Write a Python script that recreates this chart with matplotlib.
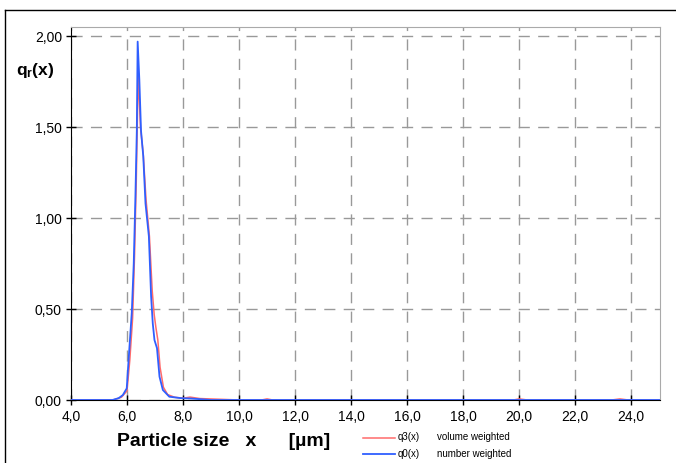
import numpy as np
import matplotlib
matplotlib.use('Agg')
import matplotlib.pyplot as plt
from matplotlib.lines import Line2D
from matplotlib.ticker import FuncFormatter, MultipleLocator

plt.rcParams['font.family'] = ['Liberation Sans', 'DejaVu Sans']
plt.rcParams['mathtext.fontset'] = 'custom'
plt.rcParams['mathtext.rm'] = 'Liberation Sans'
plt.rcParams['mathtext.bf'] = 'Liberation Sans:bold'

# q0(x) number weighted (blue)
x_q0 = [4.0, 5.0, 5.48, 5.7, 5.85, 5.99, 6.08, 6.17, 6.24, 6.30, 6.35, 6.38,
        6.44, 6.50, 6.58, 6.66, 6.78, 6.86, 6.92, 6.98, 7.07, 7.16, 7.28,
        7.51, 7.94, 8.3, 9.0, 12.0, 18.0, 25.0]
y_q0 = [0.0, 0.0, 0.0, 0.01, 0.027, 0.064, 0.275, 0.48, 0.75, 1.12, 1.48, 1.97,
        1.76, 1.48, 1.34, 1.08, 0.90, 0.57, 0.42, 0.33, 0.285, 0.128, 0.055,
        0.018, 0.01, 0.008, 0.0, 0.0, 0.0, 0.0]

# q3(x) volume weighted (red)
x_q3 = [4.0, 5.0, 5.5, 5.8, 6.0, 6.1, 6.2, 6.27, 6.33, 6.40, 6.48, 6.58,
        6.68, 6.80, 6.90, 6.97, 7.03, 7.10, 7.18, 7.30, 7.45, 7.7, 8.0, 8.25,
        8.6, 9.5, 10.0, 10.8, 11.0, 11.2, 19.8, 20.0, 20.3, 23.3, 23.6, 23.9, 25.0]
y_q3 = [0.0, 0.0, 0.0, 0.015, 0.05, 0.22, 0.45, 0.8, 1.2, 1.80, 1.50, 1.35,
        1.10, 0.90, 0.60, 0.47, 0.40, 0.33, 0.18, 0.07, 0.03, 0.015, 0.01, 0.016,
        0.008, 0.003, 0.0, 0.0, 0.006, 0.0, 0.0, 0.006, 0.0, 0.0, 0.006, 0.0, 0.0]

W, H = 676, 463
fig = plt.figure(figsize=(W / 100, H / 100), dpi=100)
ax = fig.add_axes([71 / W, 1 - 400 / H, (660 - 71) / W, (400 - 26.7) / H])

red = '#ff6b6b'
blue = '#2f5fff'
ax.plot(x_q3, y_q3, color=red, lw=1.1, zorder=3)
ax.plot(x_q0, y_q0, color=blue, lw=1.3, zorder=4)

ax.set_xlim(4.0, 25.03)
ax.set_ylim(0, 2.052)
ax.xaxis.set_major_locator(MultipleLocator(2.0))
ax.yaxis.set_major_locator(MultipleLocator(0.5))
ax.xaxis.set_major_formatter(FuncFormatter(lambda v, p: f'{v:.1f}'.replace('.', ',')))
ax.yaxis.set_major_formatter(FuncFormatter(lambda v, p: f'{v:.2f}'.replace('.', ',')))
ax.tick_params(direction='inout', length=7, width=1, labelsize=10, pad=3)
ax.tick_params(axis='x', pad=4)

ax.grid(True, color='#999999', linestyle=(0, (8, 6)), lw=1)
for s in ['top', 'right']:
    ax.spines[s].set_color('#aaaaaa')
for s in ['left', 'bottom']:
    ax.spines[s].set_color('black')

fig.text(35 / W, 1 - 70 / H, r'$\mathbf{q_r(x)}$', fontsize=12.5,
         ha='center', va='center')
fig.text(117 / W, 1 - 442 / H, 'Particle size   x      [µm]', fontsize=14,
         fontweight='bold', ha='left', va='center')

# legend
fig.add_artist(Line2D([363 / W, 395 / W], [1 - 437.5 / H] * 2, color=red, lw=1.1))
fig.add_artist(Line2D([363 / W, 395 / W], [1 - 454 / H] * 2, color=blue, lw=1.3))
fig.text(398 / W, 1 - 437.5 / H, 'q3(x)', fontsize=7, va='center')
fig.text(437 / W, 1 - 437.5 / H, 'volume weighted', fontsize=7, va='center')
fig.text(398 / W, 1 - 454 / H, 'q0(x)', fontsize=7, va='center')
fig.text(437 / W, 1 - 454 / H, 'number weighted', fontsize=7, va='center')

# outer frame
fig.add_artist(Line2D([4.5 / W, 4.5 / W], [0, 1 - 10 / H], color='black', lw=1))
fig.add_artist(Line2D([4.5 / W, 1], [1 - 10 / H] * 2, color='black', lw=1))

fig.savefig('out.png', dpi=100)
